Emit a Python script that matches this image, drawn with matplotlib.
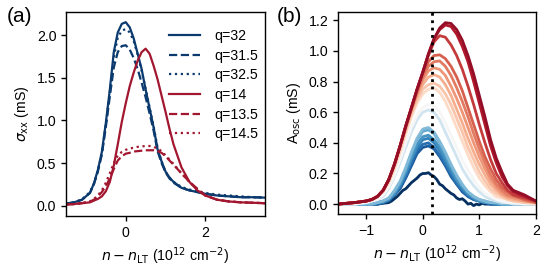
import matplotlib.pyplot as plt
import numpy as np

plt.rcParams['font.family'] = ['Liberation Sans', 'DejaVu Sans']
plt.rcParams['font.size'] = 10.2
plt.rcParams['axes.linewidth'] = 1.0
plt.rcParams['xtick.major.width'] = 1.0
plt.rcParams['ytick.major.width'] = 1.0

# ---- panel (a): sigma_xx vs density ----
xa = [-1.5, -1.3, -1.1, -0.9, -0.8, -0.7, -0.6, -0.5, -0.4, -0.3, -0.2, -0.1, 0.0,
      0.1, 0.2, 0.3, 0.4, 0.5, 0.6, 0.7, 0.8, 0.9, 1.0, 1.1, 1.2, 1.4, 1.6, 1.8,
      2.0, 2.3, 2.6, 2.9, 3.2, 3.5]
q32 = [0.025, 0.04, 0.07, 0.15, 0.26, 0.42, 0.63, 0.97, 1.36, 1.80, 2.03, 2.13, 2.15,
       2.09, 1.96, 1.78, 1.60, 1.36, 1.14, 0.92, 0.66, 0.52, 0.40, 0.33, 0.28, 0.21, 0.18, 0.16,
       0.14, 0.12, 0.11, 0.10, 0.10, 0.095]
q31_5 = [0.025, 0.04, 0.07, 0.15, 0.25, 0.40, 0.60, 0.92, 1.28, 1.62, 1.80, 1.87, 1.88,
         1.83, 1.73, 1.60, 1.44, 1.27, 1.08, 0.88, 0.64, 0.50, 0.39, 0.32, 0.27, 0.21, 0.18, 0.16,
         0.14, 0.12, 0.11, 0.10, 0.10, 0.095]
q32_5 = [0.025, 0.04, 0.075, 0.16, 0.26, 0.41, 0.62, 0.95, 1.33, 1.74, 1.97, 2.05, 2.07,
         2.03, 1.93, 1.77, 1.58, 1.37, 1.15, 0.93, 0.68, 0.52, 0.40, 0.33, 0.28, 0.22, 0.19, 0.17,
         0.15, 0.13, 0.12, 0.11, 0.10, 0.10]
q14 = [0.015, 0.02, 0.03, 0.04, 0.06, 0.08, 0.11, 0.17, 0.28, 0.47, 0.72, 0.98, 1.20,
       1.40, 1.56, 1.70, 1.80, 1.84, 1.78, 1.64, 1.48, 1.29, 1.10, 0.90, 0.72, 0.45, 0.28, 0.18,
       0.12, 0.07, 0.05, 0.04, 0.035, 0.03]
q13_5 = [0.015, 0.02, 0.03, 0.05, 0.07, 0.11, 0.16, 0.23, 0.32, 0.43, 0.53, 0.58, 0.61,
         0.62, 0.635, 0.64, 0.645, 0.65, 0.65, 0.65, 0.64, 0.62, 0.58, 0.53, 0.48, 0.38, 0.28, 0.20,
         0.12, 0.07, 0.05, 0.04, 0.035, 0.03]
q14_5 = [0.015, 0.02, 0.03, 0.05, 0.08, 0.12, 0.18, 0.27, 0.38, 0.50, 0.59, 0.63, 0.655,
         0.67, 0.68, 0.69, 0.695, 0.70, 0.70, 0.69, 0.67, 0.64, 0.59, 0.54, 0.49, 0.38, 0.28, 0.19,
         0.12, 0.07, 0.05, 0.04, 0.035, 0.03]
labels_a = ['q=32', 'q=31.5', 'q=32.5', 'q=14', 'q=13.5', 'q=14.5']

# ---- panel (b): oscillation amplitude ----
xb = [-1.5, -1.2, -1.0, -0.9, -0.8, -0.7, -0.6, -0.5, -0.4, -0.3, -0.2, -0.1, 0.0,
      0.1, 0.2, 0.3, 0.4, 0.5, 0.6, 0.7, 0.8, 0.9, 1.0, 1.1, 1.2, 1.3, 1.4, 1.5, 1.6,
      1.8, 2.0]
b1 = [0, 0, 0, 0, 0.01, 0.02, 0.04, 0.09, 0.15, 0.24, 0.34, 0.43, 0.49,
      0.50, 0.47, 0.41, 0.34, 0.26, 0.19, 0.13, 0.08, 0.05, 0.03, 0.02, 0.01, 0.01, 0, 0, 0, 0, 0]
b2 = [0, 0, 0, 0, 0.01, 0.02, 0.04, 0.08, 0.14, 0.23, 0.33, 0.42, 0.475,
      0.485, 0.46, 0.40, 0.33, 0.25, 0.18, 0.12, 0.08, 0.05, 0.03, 0.02, 0.01, 0.01, 0, 0, 0, 0, 0]
b3 = [0, 0, 0, 0, 0.01, 0.02, 0.03, 0.07, 0.13, 0.21, 0.30, 0.39, 0.44,
      0.45, 0.42, 0.37, 0.30, 0.23, 0.16, 0.11, 0.07, 0.04, 0.02, 0.01, 0.01, 0, 0, 0, 0, 0, 0]
b4 = [0, 0, 0, 0, 0.01, 0.01, 0.03, 0.07, 0.12, 0.20, 0.29, 0.37, 0.42,
      0.43, 0.40, 0.35, 0.28, 0.21, 0.15, 0.10, 0.06, 0.04, 0.02, 0.01, 0.01, 0, 0, 0, 0, 0, 0]
b5 = [0, 0, 0, 0, 0, 0.01, 0.03, 0.06, 0.11, 0.18, 0.27, 0.35, 0.39,
      0.40, 0.37, 0.32, 0.26, 0.19, 0.13, 0.09, 0.05, 0.03, 0.02, 0.01, 0, 0, 0, 0, 0, 0, 0]
b6 = [0, 0, 0, 0, 0, 0.01, 0.02, 0.06, 0.10, 0.17, 0.25, 0.33, 0.37,
      0.38, 0.36, 0.31, 0.25, 0.18, 0.13, 0.08, 0.05, 0.03, 0.02, 0.01, 0, 0, 0, 0, 0, 0, 0]
l1 = [0.00, 0.00, 0.01, 0.02, 0.03, 0.06, 0.11, 0.19, 0.29, 0.40, 0.50, 0.58, 0.63,
      0.65, 0.64, 0.60, 0.53, 0.45, 0.37, 0.29, 0.22, 0.16, 0.11, 0.07, 0.05, 0.03, 0.02, 0.01, 0.01, 0, 0]
l2 = [0.00, 0.00, 0.01, 0.02, 0.03, 0.05, 0.10, 0.18, 0.27, 0.37, 0.47, 0.55, 0.60,
      0.615, 0.60, 0.55, 0.47, 0.39, 0.31, 0.23, 0.17, 0.12, 0.08, 0.05, 0.03, 0.02, 0.01, 0.01, 0, 0, 0]
r9 = [0.00, 0.01, 0.02, 0.03, 0.05, 0.08, 0.14, 0.23, 0.34, 0.46, 0.57, 0.66, 0.72,
      0.75, 0.76, 0.73, 0.67, 0.59, 0.50, 0.41, 0.32, 0.24, 0.17, 0.12, 0.08, 0.05, 0.04, 0.03, 0.02, 0.01, 0]
r8 = [0.00, 0.01, 0.02, 0.03, 0.05, 0.09, 0.15, 0.25, 0.36, 0.48, 0.59, 0.68, 0.75,
      0.78, 0.79, 0.77, 0.72, 0.65, 0.56, 0.47, 0.37, 0.29, 0.21, 0.15, 0.10, 0.07, 0.05, 0.03, 0.02, 0.01, 0.01]
r7 = [0.00, 0.01, 0.02, 0.03, 0.05, 0.09, 0.16, 0.26, 0.37, 0.50, 0.61, 0.70, 0.78,
      0.83, 0.845, 0.83, 0.78, 0.71, 0.62, 0.53, 0.43, 0.34, 0.26, 0.19, 0.13, 0.09, 0.06, 0.04, 0.03, 0.02, 0.01]
r6 = [0.00, 0.01, 0.02, 0.03, 0.05, 0.09, 0.16, 0.26, 0.38, 0.51, 0.62, 0.72, 0.81,
      0.87, 0.89, 0.88, 0.84, 0.77, 0.69, 0.60, 0.50, 0.40, 0.31, 0.23, 0.16, 0.11, 0.07, 0.05, 0.04, 0.02, 0.01]
r5 = [0.00, 0.01, 0.02, 0.03, 0.05, 0.09, 0.16, 0.26, 0.38, 0.51, 0.62, 0.73, 0.83,
      0.90, 0.93, 0.935, 0.90, 0.84, 0.76, 0.67, 0.57, 0.46, 0.36, 0.27, 0.19, 0.13, 0.09, 0.06, 0.05, 0.03, 0.01]
r4 = [0.00, 0.01, 0.02, 0.03, 0.05, 0.09, 0.16, 0.26, 0.38, 0.50, 0.62, 0.74, 0.85,
      0.93, 0.97, 0.975, 0.95, 0.90, 0.83, 0.74, 0.63, 0.52, 0.41, 0.31, 0.23, 0.16, 0.11, 0.08, 0.06, 0.03, 0.01]
r3 = [0.00, 0.01, 0.02, 0.03, 0.05, 0.09, 0.16, 0.26, 0.38, 0.51, 0.63, 0.75, 0.86,
      0.97, 1.06, 1.10, 1.09, 1.04, 0.97, 0.88, 0.77, 0.65, 0.52, 0.40, 0.29, 0.20, 0.14, 0.09, 0.06, 0.04, 0.02]
r2 = [0.00, 0.01, 0.02, 0.03, 0.05, 0.09, 0.16, 0.26, 0.38, 0.51, 0.63, 0.75, 0.86,
      0.98, 1.08, 1.14, 1.17, 1.16, 1.11, 1.03, 0.93, 0.80, 0.66, 0.52, 0.38, 0.27, 0.18, 0.12, 0.08, 0.05, 0.02]
r1 = [0.00, 0.01, 0.02, 0.03, 0.05, 0.09, 0.16, 0.26, 0.38, 0.51, 0.63, 0.75, 0.86,
      0.98, 1.08, 1.15, 1.185, 1.18, 1.14, 1.07, 0.97, 0.85, 0.71, 0.57, 0.42, 0.30, 0.21, 0.13, 0.09, 0.06, 0.02]

# noisy lowest curve, own grid
xd = [-1.5, -1.0, -0.8, -0.7, -0.6, -0.55, -0.5, -0.45, -0.4, -0.35, -0.3, -0.25, -0.2,
      -0.15, -0.1, -0.05, 0.0, 0.05, 0.1, 0.15, 0.2, 0.25, 0.3, 0.35, 0.4, 0.45, 0.5,
      0.55, 0.6, 0.65, 0.7, 0.75, 0.8, 0.85, 0.9, 0.95, 1.0, 1.05, 1.1, 1.2, 1.3, 1.4, 1.5]
d0 = [0.0, 0.0, 0.0, 0.005, 0.01, 0.02, 0.035, 0.05, 0.07, 0.09, 0.10, 0.12, 0.14,
      0.155, 0.17, 0.19, 0.20, 0.20, 0.205, 0.19, 0.18, 0.16, 0.13, 0.12, 0.10, 0.085, 0.07,
      0.06, 0.04, 0.03, 0.035, 0.02, 0.0, 0.005, -0.01, 0.0, -0.005, 0.005, 0.0, 0.0, 0.0, 0.0, 0.0]

curves_b = [b6, b5, b4, b3, b2, b1, l2, l1, r9, r8, r7, r6, r5, r4, r3, r2, r1]
n_lt_line = 0.165

blue = '#0b3a6e'
red = '#a2172f'
cmap = plt.get_cmap('RdBu_r')
fracs = [0.08, 0.12, 0.16, 0.2, 0.24, 0.28, 0.4, 0.5, 0.6, 0.64, 0.68, 0.72, 0.76, 0.8, 0.85, 0.9, 0.94]

fig = plt.figure(figsize=(5.53, 2.78), dpi=100)
ax1 = fig.add_axes([0.1194, 0.223, 0.3599, 0.734])
ax2 = fig.add_axes([0.611, 0.230, 0.358, 0.727])

lw = 1.6
ax1.plot(xa, q32, color=blue, ls='-', lw=lw, label=labels_a[0])
ax1.plot(xa, q31_5, color=blue, ls='--', lw=lw, label=labels_a[1])
ax1.plot(xa, q32_5, color=blue, ls=':', lw=lw, label=labels_a[2])
ax1.plot(xa, q14, color=red, ls='-', lw=lw, label=labels_a[3])
ax1.plot(xa, q13_5, color=red, ls='--', lw=lw, label=labels_a[4])
ax1.plot(xa, q14_5, color=red, ls=':', lw=lw, label=labels_a[5])
ax1.set_xlim(-1.5, 3.5)
ax1.set_ylim(-0.12, 2.27)
ax1.set_xticks([0, 2])
ax1.set_yticks([0.0, 0.5, 1.0, 1.5, 2.0])
ax1.set_xlabel(r'$n - n_{\rm LT}$ (10$^{12}$ cm$^{-2}$)')
ax1.set_ylabel(r'$\sigma_{\rm xx}$ (mS)')
ax1.legend(frameon=False, loc='upper right', bbox_to_anchor=(1.05, 1.0),
           handlelength=2.2, handletextpad=1.0, labelspacing=0.4, borderaxespad=0.8)

ax2.plot(xd, d0, color=cmap(0.0), lw=2.0)
for y, f in zip(curves_b, fracs):
    ax2.plot(xb, y, color=cmap(f), lw=2.0)
ax2.axvline(n_lt_line, color='k', ls=':', lw=2.0)
ax2.set_xlim(-1.5, 2.0)
ax2.set_ylim(-0.065, 1.255)
ax2.set_xticks([-1, 0, 1, 2])
ax2.set_yticks([0.0, 0.2, 0.4, 0.6, 0.8, 1.0, 1.2])
ax2.set_xlabel(r'$n - n_{\rm LT}$ (10$^{12}$ cm$^{-2}$)')
ax2.set_ylabel(r'A$_{\rm osc}$ (mS)')

fig.text(0.013, 0.94, '(a)', fontsize=15, va='center')
fig.text(0.5, 0.94, '(b)', fontsize=15, va='center')

fig.savefig('out.png', dpi=100)
